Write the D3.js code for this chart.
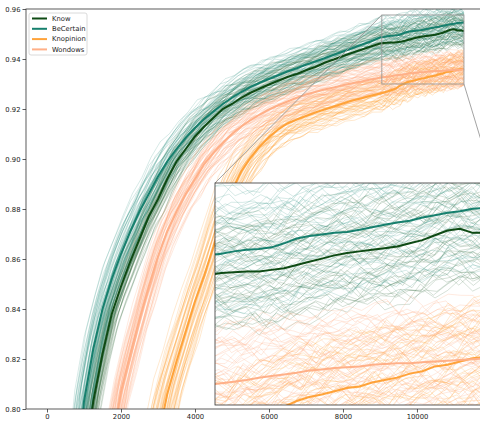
<!DOCTYPE html>
<html>
<head>
<meta charset="utf-8">
<script src="https://cdn.jsdelivr.net/npm/d3@7"></script>
<style>
  body { margin: 0; background: #fff; }
  text { font-family: "DejaVu Sans", sans-serif; fill: #222; }
</style>
</head>
<body>
<svg id="chart" width="480" height="421"></svg>
<script>

// training steps (x positions of each logged value)
var steps = [0, 250, 500, 750, 1000, 1250, 1500, 1750, 2000, 2250, 2500, 2750, 3000, 3250, 3500, 3750,
	4000, 4250, 4500, 4750, 5000, 5250, 5500, 5750, 6000, 6250, 6500, 6750, 7000, 7250, 7500, 7750,
	8000, 8250, 8500, 8750, 9000, 9100, 9200, 9300, 9400, 9500, 9600, 9700, 9800, 9900, 10000,
	10100, 10200, 10300, 10400, 10500, 10600, 10700, 10800, 10900, 11000, 11100, 11200, 11270];

// mean curves
var knowMean = [0.40, 0.55, 0.66, 0.73, 0.775, 0.803, 0.822, 0.838, 0.849, 0.859, 0.868, 0.877, 0.884, 0.892, 0.899, 0.904,
	0.909, 0.913, 0.9165, 0.920, 0.922, 0.9245, 0.9265, 0.9282, 0.9298, 0.9313, 0.9328, 0.934, 0.9355, 0.9368, 0.9385, 0.9398,
	0.9412, 0.9425, 0.9437, 0.945, 0.9462, 0.9464, 0.9465, 0.9466, 0.9466, 0.9468, 0.947, 0.9474, 0.9478, 0.9482, 0.9486,
	0.9489, 0.9491, 0.9493, 0.9495, 0.9497, 0.9501, 0.9505, 0.9511, 0.9517, 0.9519, 0.9514, 0.9514, 0.9512];

var beCertainMean = [0.45, 0.60, 0.70, 0.765, 0.803, 0.824, 0.840, 0.852, 0.862, 0.871, 0.879, 0.886, 0.893, 0.899, 0.904, 0.9085,
	0.9125, 0.916, 0.919, 0.922, 0.9245, 0.9268, 0.9288, 0.9305, 0.932, 0.9335, 0.935, 0.9363, 0.9377, 0.939, 0.9403, 0.9417,
	0.943, 0.9443, 0.9457, 0.947, 0.9486, 0.9488, 0.9491, 0.9493, 0.9494, 0.9496, 0.9501, 0.9507, 0.951, 0.9512, 0.9514,
	0.9515, 0.9518, 0.9521, 0.9524, 0.9527, 0.9529, 0.9533, 0.9536, 0.9539, 0.9541, 0.9544, 0.9545, 0.9546];

var knopinionMean = [0.30, 0.35, 0.40, 0.45, 0.50, 0.55, 0.60, 0.64, 0.68, 0.71, 0.74, 0.765, 0.788, 0.806, 0.819, 0.831,
	0.843, 0.8535, 0.865, 0.8775, 0.8875, 0.895, 0.9005, 0.905, 0.9088, 0.9118, 0.9142, 0.9158, 0.9172, 0.9186, 0.9198, 0.921,
	0.9222, 0.9234, 0.9243, 0.9253, 0.9262, 0.9266, 0.927, 0.9275, 0.928, 0.9289, 0.9298, 0.9305, 0.931, 0.9313, 0.9317,
	0.9321, 0.9323, 0.9328, 0.9331, 0.9334, 0.9339, 0.9342, 0.9348, 0.935, 0.9354, 0.9358, 0.936, 0.9361];

var wondowsMean = [0.35, 0.42, 0.50, 0.57, 0.63, 0.69, 0.74, 0.785, 0.807, 0.822, 0.836, 0.849, 0.861, 0.871, 0.879, 0.886,
	0.892, 0.898, 0.9025, 0.9065, 0.91, 0.913, 0.9155, 0.9178, 0.9198, 0.9215, 0.923, 0.9245, 0.9258, 0.9268, 0.9278, 0.9286,
	0.9295, 0.9303, 0.931, 0.9318, 0.9325, 0.9327, 0.9329, 0.9331, 0.9334, 0.9336, 0.9338, 0.934, 0.9343, 0.9344, 0.9346,
	0.9347, 0.9348, 0.935, 0.9351, 0.9352, 0.9352, 0.9353, 0.9354, 0.9355, 0.9356, 0.9357, 0.9358, 0.9359];

var seriesNames = ["Know", "BeCertain", "Knopinion", "Wondows"];
var seriesMeans = [knowMean, beCertainMean, knopinionMean, wondowsMean];
var seriesColors = ["#0e4a14", "#17806e", "#ffa33a", "#ffb088"];
var runColors = ["#245f30", "#1a8472", "#ffa33a", "#ffa67c"];
var runOpacity = [0.24, 0.22, 0.3, 0.3];

var runShift = [-1.0, -0.92, -0.85, -0.78, -0.7, -0.63, -0.57, -0.5, -0.45, -0.4, -0.35, -0.3, -0.26, -0.22, -0.18,
	-0.14, -0.1, -0.06, -0.03, 0.0, 0.03, 0.06, 0.1, 0.14, 0.18, 0.22, 0.26, 0.3, 0.35, 0.4, 0.45, 0.5, 0.57, 0.63,
	0.7, 0.78, 0.85, 0.92, 1.0, -0.75, -0.48, -0.28, -0.12, 0.08, 0.24, 0.42, 0.6, 0.8, -0.95, 0.95];
var runLift = [0.2, -0.6, 0.9, -0.1, 0.5, -0.9, 0.3, -0.3, 0.7, -0.5, 0.0, 0.8, -0.8, 0.4, -0.2, 0.6, -0.7, 0.1,
	-0.4, 1.0, -1.0, 0.35, -0.15, 0.55, -0.45, 0.15, -0.85, 0.75, -0.25, 0.45, -0.65, 0.05, 0.85, -0.35, 0.25,
	-0.75, 0.65, -0.05, -0.55, 0.95, -0.95, 0.38, -0.18, 0.58, -0.42, 0.12, -0.88, 0.72, -0.28, 0.48];
var wiggle = [0.3, -0.8, 0.5, 0.9, -0.2, -0.6, 0.7, -0.9, 0.1, 0.6, -0.4, 0.8, -0.7, 0.2, -0.1, 0.9, -0.5, 0.4,
	-0.9, 0.6, 0.0, -0.3, 0.8, -0.6, 0.5, -0.8, 0.2, 0.7, -0.4, -0.1, 0.9, -0.7, 0.3, -0.5, 0.6, -0.2, 0.8,
	-0.9, 0.4, 0.1, -0.6, 0.7, -0.3, 0.5, -0.8, 0.2, -0.4, 1.0, -1.0, 0.3, -0.2, 0.6, -0.5];
var spreadX = [190, 270, 400, 240];
var spreadY = [0.0068, 0.0078, 0.0068, 0.0072];
var wiggleY = [0.0011, 0.0011, 0.0012, 0.0012];

var xTicks = [0, 2000, 4000, 6000, 8000, 10000];
var yTicks = [0.80, 0.82, 0.84, 0.86, 0.88, 0.90, 0.92, 0.94, 0.96];
var zoomX = [9050, 11270];
var zoomY = [0.93, 0.9576];

var svg = d3.select("#chart");

var x = d3.scaleLinear().domain([-568, 11920]).range([26, 488]);
var y = d3.scaleLinear().domain([0.80, 0.96]).range([409, 9]);

// inset scales
var xi = d3.scaleLinear().domain(zoomX).range([215, 494]);
var yi = d3.scaleLinear().domain(zoomY).range([405, 183]);

var makeRun = function(g, r) {
	var mean = seriesMeans[g];
	var last = steps[steps.length - 1];
	return steps.map(function(s, i) {
		var taper = s < 8000 ? 1 : (last - s) / (last - 8000);
		var w = wiggle[(i * 3 + r * 7 + g * 11) % wiggle.length];
		return [s + runShift[(r + g * 5) % runShift.length] * spreadX[g] * taper,
			mean[i] + runLift[(r + g * 3) % runLift.length] * spreadY[g] + w * wiggleY[g]];
	});
};

var runs = [];
seriesMeans.forEach(function(m, g) {
	for (var r = 0; r < runShift.length; r++) {
		runs.push({ g: g, pts: makeRun(g, r) });
	}
});

var defs = svg.append("defs");
defs.append("clipPath").attr("id", "clipMain")
	.append("rect").attr("x", 26).attr("y", 9).attr("width", 462).attr("height", 400);
defs.append("clipPath").attr("id", "clipInset")
	.append("rect").attr("x", 215).attr("y", 183).attr("width", 279).attr("height", 222);

var drawLines = function(parent, sx, sy) {
	var line = d3.line()
		.x(function(d) { return sx(d[0]); })
		.y(function(d) { return sy(d[1]); });

	parent.selectAll("path.run")
		.data(runs)
		.enter()
		.append("path")
		.attr("class", "run")
		.attr("d", function(d) { return line(d.pts); })
		.attr("fill", "none")
		.attr("stroke", function(d) { return runColors[d.g]; })
		.attr("stroke-opacity", function(d) { return runOpacity[d.g]; })
		.attr("stroke-width", 0.8);

	parent.selectAll("path.mean")
		.data(seriesMeans)
		.enter()
		.append("path")
		.attr("class", "mean")
		.attr("d", function(m) { return line(steps.map(function(s, i) { return [s, m[i]]; })); })
		.attr("fill", "none")
		.attr("stroke", function(m, i) { return seriesColors[i]; })
		.attr("stroke-width", 2);
};

// main plot
var main = svg.append("g").attr("clip-path", "url(#clipMain)");
drawLines(main, x, y);

// axes
var xAxis = d3.axisBottom(x).tickValues(xTicks).tickSize(3.5).tickPadding(2).tickFormat(d3.format("d"));
var yAxis = d3.axisLeft(y).tickValues(yTicks).tickSize(3.5).tickPadding(2).tickFormat(d3.format(".2f"));

var gx = svg.append("g").attr("transform", "translate(0,409)").call(xAxis);
var gy = svg.append("g").attr("transform", "translate(26,0)").call(yAxis);
[gx, gy].forEach(function(g) {
	g.select(".domain").remove();
	g.selectAll("line").attr("stroke", "#333").attr("stroke-width", 0.8);
	g.selectAll("text").attr("font-size", 6.8).style("fill", "#222");
});

svg.append("rect")
	.attr("x", 26).attr("y", 9).attr("width", 462).attr("height", 400)
	.attr("fill", "none").attr("stroke", "#333").attr("stroke-width", 0.8);

// zoom indicator and connectors
svg.append("rect")
	.attr("x", x(zoomX[0])).attr("y", y(zoomY[1]))
	.attr("width", x(zoomX[1]) - x(zoomX[0])).attr("height", y(zoomY[0]) - y(zoomY[1]))
	.attr("fill", "none").attr("stroke", "#999").attr("stroke-width", 0.9);
svg.append("line")
	.attr("x1", x(zoomX[0])).attr("y1", y(zoomY[1])).attr("x2", 215).attr("y2", 183)
	.attr("stroke", "#999").attr("stroke-width", 0.9);
svg.append("line")
	.attr("x1", x(zoomX[1])).attr("y1", y(zoomY[0])).attr("x2", 494).attr("y2", 183)
	.attr("stroke", "#999").attr("stroke-width", 0.9);

// inset
svg.append("rect").attr("x", 215).attr("y", 183).attr("width", 279).attr("height", 222).attr("fill", "#fff");
var inset = svg.append("g").attr("clip-path", "url(#clipInset)");
drawLines(inset, xi, yi);
svg.append("rect")
	.attr("x", 215).attr("y", 183).attr("width", 279).attr("height", 222)
	.attr("fill", "none").attr("stroke", "#333").attr("stroke-width", 0.8);

// legend
var legend = svg.append("g").attr("transform", "translate(29,13)");
legend.append("rect")
	.attr("width", 58).attr("height", 42).attr("rx", 2)
	.attr("fill", "#fff").attr("fill-opacity", 0.85)
	.attr("stroke", "#d0d0d0").attr("stroke-width", 0.8);
var item = legend.selectAll("g.item")
	.data(seriesNames)
	.enter()
	.append("g")
	.attr("class", "item")
	.attr("transform", function(d, i) { return "translate(0," + (5.5 + i * 10.3) + ")"; });
item.append("line")
	.attr("x1", 3).attr("x2", 18)
	.attr("stroke", function(d, i) { return seriesColors[i]; })
	.attr("stroke-width", 2);
item.append("text")
	.attr("x", 23).attr("dy", "0.35em")
	.attr("font-size", 6.8)
	.text(function(d) { return d; });

</script>
</body>
</html>
